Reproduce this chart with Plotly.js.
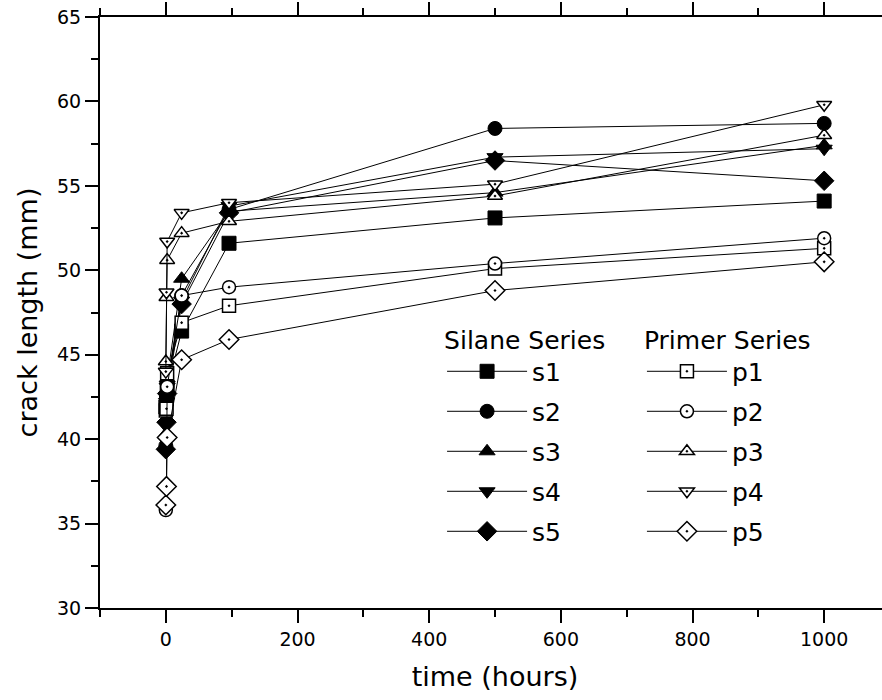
<!DOCTYPE html>
<html>
<head>
<meta charset="utf-8">
<script src="https://cdn.plot.ly/plotly-3.0.1.min.js"></script>
<style>
html,body{margin:0;padding:0;overflow:hidden;background:#fff;}
#chart{width:892px;height:700px;}
</style>
</head>
<body>
<div id="chart"></div>
<script>
// time in hours
const time = [0, 1, 2, 24, 96, 500, 1000];

// Silane series crack length (mm)
const s1 = [41.9, 42.4, 43.0, 46.4, 51.6, 53.1, 54.1];
const s2 = [39.6, 42.6, 43.3, 48.5, 53.6, 58.4, 58.7];
const s3 = [40.3, 42.9, 43.6, 49.5, 53.5, 54.6, 57.4];
const s4 = [40.8, 42.2, 43.1, 48.2, 53.8, 56.7, 57.2];
const s5 = [39.4, 41.0, 42.7, 48.0, 53.4, 56.5, 55.3];

// Primer series crack length (mm)
const p1 = [41.7, 41.8, 43.9, 46.9, 47.9, 50.1, 51.3];
const p2 = [35.8, 37.2, 43.1, 48.5, 49.0, 50.4, 51.9];
const p3 = [44.6, 48.4, 50.6, 52.2, 52.9, 54.4, 58.0];
const p4 = [44.0, 48.7, 51.7, 53.4, 54.0, 55.1, 59.8];
const p5 = [36.1, 37.2, 40.1, 44.7, 45.9, 48.8, 50.5];

const silaneNames = ['s1', 's2', 's3', 's4', 's5'];
const primerNames = ['p1', 'p2', 'p3', 'p4', 'p5'];
const silaneData = [s1, s2, s3, s4, s5];
const primerData = [p1, p2, p3, p4, p5];

const silaneSymbols = ['square', 'circle', 'triangle-up', 'triangle-down', 'diamond'];
const primerSymbols = ['square-dot', 'circle-dot', 'triangle-up-dot', 'triangle-down-dot', 'diamond-dot'];

const FONT = 'DejaVu Sans, Arial, sans-serif';
const traces = [];
silaneData.forEach((ys, i) => {
  traces.push({
    x: time, y: ys, name: silaneNames[i], type: 'scatter', mode: 'lines+markers',
    line: {color: '#000', width: 1},
    marker: {symbol: silaneSymbols[i], size: i === 4 ? 15 : 14, color: '#000', line: {color: '#000', width: 1}},
    legend: 'legend', legendgroup: silaneNames[i], showlegend: true
  });
});
primerData.forEach((ys, i) => {
  traces.push({
    x: time, y: ys, name: primerNames[i], type: 'scatter', mode: 'lines+markers',
    line: {color: '#000', width: 1},
    marker: {symbol: primerSymbols[i], size: i === 4 ? 15 : 13, color: '#fff', line: {color: '#000', width: 1.5}},
    legend: 'legend2', legendgroup: primerNames[i], showlegend: true
  });
});

const legendCommon = {
  bgcolor: 'rgba(0,0,0,0)', borderwidth: 0,
  font: {family: FONT, size: 25, color: '#000'},
  tracegroupgap: 4.5, itemwidth: 80, xanchor: 'left', yanchor: 'top', traceorder: 'grouped'
};

const layout = {
  width: 892, height: 700,
  margin: {l: 100, r: 2, t: 17, b: 92},
  paper_bgcolor: '#fff', plot_bgcolor: '#fff',
  font: {family: FONT, color: '#000'},
  showlegend: true,
  xaxis: {
    range: [-100, 1100], tickvals: [0, 200, 400, 600, 800, 1000],
    ticks: 'outside', ticklen: 13, tickwidth: 2, tickcolor: '#000',
    minor: {dtick: 100, tick0: 0, ticks: 'outside', ticklen: 7, tickwidth: 2, tickcolor: '#000'},
    showline: true, linewidth: 2, linecolor: '#000', mirror: 'ticks',
    showgrid: false, zeroline: false,
    tickfont: {family: FONT, size: 19, color: '#000'},
    title: {text: 'time (hours)', font: {family: FONT, size: 27, color: '#000'}, standoff: 18}
  },
  yaxis: {
    range: [30, 65], tickvals: [30, 35, 40, 45, 50, 55, 60, 65],
    ticks: 'outside', ticklen: 13, tickwidth: 2, tickcolor: '#000',
    minor: {dtick: 2.5, tick0: 30, ticks: 'outside', ticklen: 7, tickwidth: 2, tickcolor: '#000'},
    showline: true, linewidth: 2, linecolor: '#000', mirror: 'ticks',
    showgrid: false, zeroline: false,
    tickfont: {family: FONT, size: 19, color: '#000'},
    title: {text: 'crack length (mm)', font: {family: FONT, size: 27, color: '#000'}, standoff: 12}
  },
  legend: Object.assign({}, legendCommon, {
    x: 0.433, y: 0.494,
    title: {text: 'Silane Series', font: {family: FONT, size: 25, color: '#000'}}
  }),
  legend2: Object.assign({}, legendCommon, {
    x: 0.686, y: 0.494,
    title: {text: 'Primer Series', font: {family: FONT, size: 25, color: '#000'}}
  })
};

Plotly.newPlot('chart', traces, layout, {displayModeBar: false, staticPlot: true});
</script>
</body>
</html>
